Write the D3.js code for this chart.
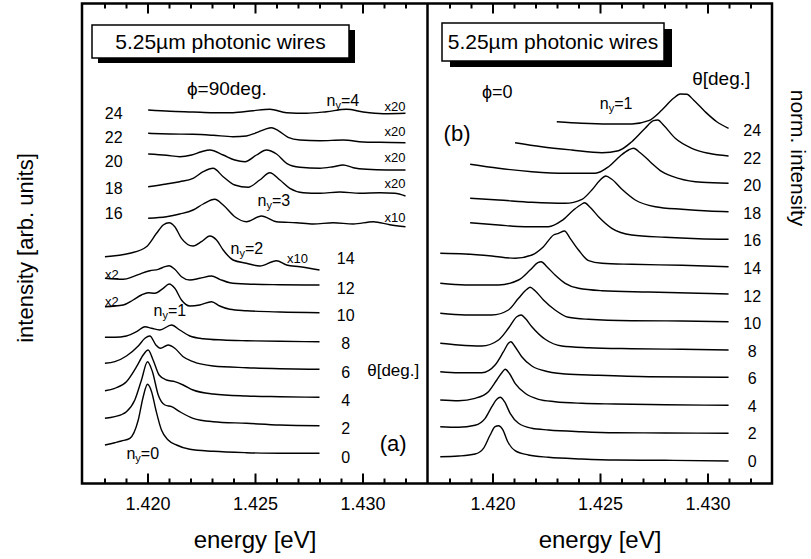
<!DOCTYPE html>
<html>
<head>
<script src="https://d3js.org/d3.v7.min.js"></script>
<style>
  body { margin: 0; background: #fff; }
  text { font-family: "Liberation Sans", Arial, Helvetica, sans-serif; fill: #000; }
  .trace { fill: none; stroke: #000; stroke-width: 1.4px; stroke-linejoin: round; }
  .axis path { display: none; }
  .axis line { stroke: #000; stroke-width: 2px; }
</style>
</head>
<body>
<svg width="811" height="559"></svg>
<script>
// energy ticks (eV)
const majorTicks = [1.420, 1.425, 1.430];
const minorTicks = [1.418, 1.419, 1.421, 1.422, 1.423, 1.424, 1.426, 1.427, 1.428, 1.429, 1.431, 1.432];

// panel (a), phi = 90deg: [energy, intensity + offset]
const a0 = [[1.41802,3.90],[1.41848,4.13],[1.41879,4.30],[1.41918,4.57],[1.41957,6.40],[1.41980,8.73],[1.42000,9.97],[1.42019,9.23],[1.42039,7.40],[1.42065,5.40],[1.42096,4.40],[1.42135,3.90],[1.42197,3.47],[1.42305,3.27],[1.42460,3.13],[1.42616,3.07],[1.42800,3.07]];
const a2 = [[1.41802,6.57],[1.41848,6.73],[1.41902,7.23],[1.41941,8.40],[1.41972,10.40],[1.42000,12.23],[1.42023,11.23],[1.42050,8.90],[1.42081,7.90],[1.42112,7.73],[1.42150,7.23],[1.42212,6.57],[1.42305,6.23],[1.42460,6.07],[1.42616,5.90],[1.42800,5.83]];
const a4 = [[1.41802,9.33],[1.41848,9.57],[1.41902,10.23],[1.41949,11.73],[1.41980,12.90],[1.42003,13.40],[1.42026,12.40],[1.42054,10.90],[1.42088,10.40],[1.42127,10.23],[1.42166,9.90],[1.42212,9.40],[1.42305,9.00],[1.42460,8.80],[1.42616,8.73],[1.42800,8.67]];
const a6 = [[1.41802,12.07],[1.41848,12.23],[1.41902,12.80],[1.41957,13.80],[1.41988,14.57],[1.42011,14.80],[1.42039,13.90],[1.42060,13.57],[1.42096,13.90],[1.42127,13.57],[1.42166,12.73],[1.42212,12.23],[1.42305,11.80],[1.42460,11.63],[1.42616,11.53],[1.42800,11.47]];
const a8 = [[1.41802,14.67],[1.41848,14.67],[1.41902,14.80],[1.41949,15.23],[1.41988,15.73],[1.42019,15.57],[1.42057,15.40],[1.42112,15.90],[1.42150,15.40],[1.42197,14.80],[1.42259,14.53],[1.42352,14.40],[1.42460,14.33],[1.42616,14.27],[1.42800,14.23]];
const a10 = [[1.41802,17.73],[1.41887,17.90],[1.41933,18.40],[1.41972,18.90],[1.42003,19.13],[1.42034,19.07],[1.42073,19.57],[1.42101,20.00],[1.42127,19.57],[1.42158,18.40],[1.42197,17.80],[1.42243,17.90],[1.42298,18.23],[1.42336,17.80],[1.42383,17.47],[1.42460,17.33],[1.42616,17.20],[1.42800,17.13]];
const a12 = [[1.41802,20.57],[1.41887,20.47],[1.41933,20.73],[1.41972,21.07],[1.42011,21.33],[1.42050,21.47],[1.42081,21.73],[1.42101,21.83],[1.42127,21.47],[1.42158,20.73],[1.42197,20.40],[1.42243,20.57],[1.42298,20.80],[1.42336,20.47],[1.42383,20.13],[1.42460,20.00],[1.42616,19.93],[1.42800,19.90]];
const a14 = [[1.41802,22.73],[1.41918,23.07],[1.41995,23.73],[1.42042,25.07],[1.42073,25.90],[1.42101,26.13],[1.42127,25.73],[1.42158,24.57],[1.42212,23.80],[1.42251,24.23],[1.42290,24.80],[1.42321,24.40],[1.42352,23.40],[1.42398,22.40],[1.42460,22.07],[1.42522,21.80],[1.42600,22.33],[1.42647,21.90],[1.42709,21.73],[1.42800,21.40]];
const a16 = [[1.42003,26.57],[1.42088,26.73],[1.42150,27.00],[1.42212,27.40],[1.42259,28.00],[1.42313,28.47],[1.42352,27.90],[1.42406,26.73],[1.42460,26.23],[1.42530,26.80],[1.42600,26.23],[1.42693,26.13],[1.42771,26.00],[1.42864,26.13],[1.42957,26.00],[1.43050,26.23],[1.43127,25.93],[1.43200,25.73]];
const a18 = [[1.42003,29.73],[1.42088,30.00],[1.42150,30.23],[1.42212,30.57],[1.42259,31.23],[1.42305,31.57],[1.42352,30.73],[1.42406,29.90],[1.42468,29.67],[1.42522,30.40],[1.42569,31.13],[1.42616,30.40],[1.42662,29.57],[1.42724,29.13],[1.42802,29.07],[1.42895,29.20],[1.42988,29.07],[1.43081,29.13],[1.43150,29.07],[1.43200,28.80]];
const a20 = [[1.42003,33.00],[1.42088,32.87],[1.42150,32.73],[1.42205,32.90],[1.42251,33.23],[1.42290,33.40],[1.42352,32.90],[1.42406,32.40],[1.42453,32.23],[1.42507,32.90],[1.42553,33.40],[1.42600,33.00],[1.42647,32.07],[1.42709,31.67],[1.42802,31.57],[1.42864,31.73],[1.42910,31.90],[1.42957,31.63],[1.43019,31.47],[1.43112,31.40],[1.43200,31.40]];
const a22 = [[1.42003,35.07],[1.42104,35.00],[1.42212,34.97],[1.42305,34.87],[1.42398,34.73],[1.42460,34.80],[1.42507,35.13],[1.42546,35.47],[1.42577,35.63],[1.42608,35.33],[1.42654,34.67],[1.42709,34.40],[1.42802,34.33],[1.42910,34.40],[1.43003,34.20],[1.43081,34.17],[1.43200,34.13]];
const a24 = [[1.42003,37.40],[1.42104,37.27],[1.42212,37.20],[1.42305,37.13],[1.42398,37.13],[1.42491,37.33],[1.42569,37.47],[1.42647,37.13],[1.42740,37.07],[1.42833,37.23],[1.42926,37.47],[1.43003,37.20],[1.43096,37.03],[1.43200,37.07]];

// panel (b), phi = 0
const b0 = [[1.41757,2.73],[1.41842,2.80],[1.41919,3.00],[1.41958,3.57],[1.41989,4.90],[1.42012,5.73],[1.42028,5.83],[1.42047,5.47],[1.42071,4.23],[1.42105,3.33],[1.42167,2.90],[1.42260,2.67],[1.42416,2.50],[1.42571,2.40],[1.42803,2.37],[1.43098,2.30]];
const b2 = [[1.41757,5.73],[1.41842,5.67],[1.41919,5.87],[1.41966,6.57],[1.41997,7.73],[1.42020,8.47],[1.42036,8.67],[1.42056,8.23],[1.42082,7.07],[1.42121,6.07],[1.42183,5.57],[1.42260,5.40],[1.42416,5.23],[1.42571,5.13],[1.42803,5.10],[1.43098,5.07]];
const b4 = [[1.41757,8.40],[1.41842,8.33],[1.41919,8.57],[1.41981,9.23],[1.42020,10.40],[1.42047,11.23],[1.42059,11.47],[1.42078,11.07],[1.42105,10.07],[1.42152,9.07],[1.42214,8.47],[1.42291,8.23],[1.42416,8.07],[1.42571,8.00],[1.42803,7.93],[1.43098,7.87]];
const b6 = [[1.41757,11.23],[1.41842,11.13],[1.41950,11.13],[1.42012,11.90],[1.42051,13.23],[1.42074,14.07],[1.42085,14.23],[1.42105,13.73],[1.42136,12.73],[1.42183,11.80],[1.42260,11.23],[1.42338,11.00],[1.42493,10.87],[1.42726,10.73],[1.43098,10.67]];
const b8 = [[1.41757,14.07],[1.41842,13.90],[1.41950,13.80],[1.42028,14.40],[1.42074,15.57],[1.42113,16.73],[1.42133,16.90],[1.42152,16.57],[1.42183,15.73],[1.42245,14.47],[1.42322,13.80],[1.42447,13.63],[1.42648,13.53],[1.42881,13.47],[1.43098,13.40]];
const b10 = [[1.41757,17.07],[1.41873,16.90],[1.41997,16.90],[1.42074,17.40],[1.42121,18.57],[1.42160,19.47],[1.42175,19.67],[1.42198,19.33],[1.42237,18.40],[1.42291,17.40],[1.42353,16.67],[1.42447,16.47],[1.42648,16.33],[1.42881,16.30],[1.43098,16.23]];
const b12 = [[1.41757,20.07],[1.41873,19.90],[1.42028,19.90],[1.42121,20.40],[1.42175,21.40],[1.42211,22.13],[1.42226,22.23],[1.42253,21.73],[1.42291,20.90],[1.42338,20.07],[1.42400,19.57],[1.42509,19.33],[1.42726,19.20],[1.42958,19.07],[1.43098,19.00]];
const b14 = [[1.41757,23.07],[1.41873,23.00],[1.41997,22.80],[1.42105,22.57],[1.42183,22.90],[1.42237,23.73],[1.42284,24.90],[1.42307,25.07],[1.42335,25.30],[1.42361,24.57],[1.42400,23.40],[1.42447,22.33],[1.42509,22.07],[1.42648,21.97],[1.42881,21.87],[1.43098,21.73]];
const b16 = [[1.41896,26.13],[1.42028,25.90],[1.42152,25.73],[1.42260,25.73],[1.42322,26.33],[1.42377,27.40],[1.42416,28.00],[1.42428,28.13],[1.42454,27.67],[1.42493,26.73],[1.42555,25.57],[1.42648,24.90],[1.42803,24.67],[1.42958,24.53],[1.43098,24.47]];
const b18 = [[1.41896,28.57],[1.42028,28.40],[1.42183,28.17],[1.42338,28.07],[1.42416,28.47],[1.42462,29.40],[1.42501,30.40],[1.42527,30.80],[1.42555,30.47],[1.42602,29.47],[1.42664,28.40],[1.42757,27.73],[1.42881,27.47],[1.43005,27.30],[1.43098,27.23]];
const b20 = [[1.41896,31.97],[1.42028,31.57],[1.42183,31.23],[1.42338,31.07],[1.42478,31.07],[1.42540,31.73],[1.42594,32.80],[1.42633,33.40],[1.42656,33.57],[1.42687,33.13],[1.42733,32.23],[1.42788,31.23],[1.42865,30.57],[1.42974,30.17],[1.43098,30.07]];
const b22 = [[1.42105,34.13],[1.42229,33.73],[1.42369,33.40],[1.42509,33.13],[1.42586,33.33],[1.42648,34.23],[1.42710,35.57],[1.42749,36.33],[1.42769,36.40],[1.42795,35.90],[1.42850,34.57],[1.42927,33.57],[1.43005,33.07],[1.43098,32.80]];
const b24 = [[1.42299,36.23],[1.42416,36.07],[1.42540,36.00],[1.42648,36.00],[1.42726,36.33],[1.42788,37.40],[1.42842,38.57],[1.42873,39.00],[1.42904,38.97],[1.42935,38.40],[1.42989,37.23],[1.43043,36.23],[1.43098,35.57]];

const tracesA = [a0, a2, a4, a6, a8, a10, a12, a14, a16, a18, a20, a22, a24];
const tracesB = [b0, b2, b4, b6, b8, b10, b12, b14, b16, b18, b20, b22, b24];

// angle labels: [theta, energy, level]
const thetaLabelsA = [[0,1.42922,2.7],[2,1.42922,5.6],[4,1.42922,8.4],[6,1.42922,11.2],[8,1.42922,14.1],[10,1.42922,16.9],[12,1.42922,19.6],[14,1.42922,22.6],
  [16,1.41843,27.1],[18,1.41843,29.6],[20,1.41843,32.3],[22,1.41843,34.7],[24,1.41843,37.1]];
const thetaLabelsB = [[0,1.43208,2.3],[2,1.43208,5.1],[4,1.43208,7.8],[6,1.43208,10.6],[8,1.43208,13.3],[10,1.43208,16.1],[12,1.43208,18.8],[14,1.43208,21.6],
  [16,1.43208,24.4],[18,1.43208,27.1],[20,1.43208,29.9],[22,1.43208,32.6],[24,1.43208,35.4]];
// scale factors: [text, energy, level]
const factorsA = [["x20",1.43151,37.8],["x20",1.43151,35.3],["x20",1.43151,32.7],["x20",1.43151,30.1],["x10",1.43151,26.7],["x10",1.42698,22.6],["x2",1.41834,21.0],["x2",1.41834,18.3]];
// mode labels n_y: [index, energy, level]
const modesA = [[4,1.42909,38.4],[3,1.42588,28.4],[2,1.42462,23.6],[1,1.42104,17.4],[0,1.41978,3.1]];
const modesB = [[1,1.42575,38.1]];

const svg = d3.select("svg");
const frameTop = 3.5, frameBottom = 483.5;
const y = d3.scaleLinear().domain([0, 48]).range([484, 4]);
const xA = d3.scaleLinear().domain([1.417, 1.433]).range([83, 427]);
const xB = d3.scaleLinear().domain([1.417, 1.433]).range([428, 772]);

function drawPanel(x, traces, thetaLabels, title, box) {
  const g = svg.append("g");

  // ticks on bottom (inward, labelled) and top (inward)
  g.append("g").attr("class", "axis").attr("transform", `translate(0,${frameBottom})`)
    .call(d3.axisBottom(x).tickValues(majorTicks).tickSize(-10).tickPadding(14).tickFormat(d3.format(".3f")))
    .selectAll("text").style("font-size", "18px").style("font-family", "Liberation Sans, Arial, sans-serif");
  g.append("g").attr("class", "axis").attr("transform", `translate(0,${frameBottom})`)
    .call(d3.axisBottom(x).tickValues(minorTicks).tickSize(-5).tickFormat(""));
  g.append("g").attr("class", "axis").attr("transform", `translate(0,${frameTop})`)
    .call(d3.axisTop(x).tickValues(majorTicks).tickSize(-10).tickFormat(""));
  g.append("g").attr("class", "axis").attr("transform", `translate(0,${frameTop})`)
    .call(d3.axisTop(x).tickValues(minorTicks).tickSize(-5).tickFormat(""));

  const line = d3.line().x(d => x(d[0])).y(d => y(d[1])).curve(d3.curveMonotoneX);
  g.selectAll(".trace").data(traces).join("path")
    .attr("class", "trace").attr("d", line);

  g.selectAll(".theta").data(thetaLabels).join("text")
    .attr("class", "theta")
    .attr("x", d => x(d[1])).attr("y", d => y(d[2]))
    .attr("dy", "0.35em").attr("text-anchor", "middle")
    .style("font-size", "16px").text(d => d[0]);

  // title box with drop shadow
  g.append("rect").attr("x", box[0] + box[4]).attr("y", box[1] + box[5])
    .attr("width", box[2]).attr("height", box[3]).attr("fill", "#000");
  g.append("rect").attr("x", box[0]).attr("y", box[1])
    .attr("width", box[2]).attr("height", box[3])
    .attr("fill", "#fff").attr("stroke", "#000").attr("stroke-width", 1.5);
  g.append("text").attr("x", box[0] + box[2] / 2).attr("y", box[1] + box[3] / 2)
    .attr("dy", "0.35em").attr("text-anchor", "middle")
    .style("font-size", "21px").text(title);
  return g;
}

function modeLabel(g, x, d) {
  const t = g.append("text").attr("x", x(d[1])).attr("y", y(d[2]))
    .attr("dy", "0.35em").attr("text-anchor", "middle").style("font-size", "16px");
  t.append("tspan").text("n");
  t.append("tspan").attr("dy", "3").style("font-size", "11px").text("y");
  t.append("tspan").attr("dy", "-3").text("=" + d[0]);
}

function note(g, x, e, v, txt, size) {
  g.append("text").attr("x", x(e)).attr("y", y(v)).attr("dy", "0.35em")
    .attr("text-anchor", "middle").style("font-size", size + "px").text(txt);
}

const gA = drawPanel(xA, tracesA, thetaLabelsA, "5.25\u00b5m photonic wires", [92, 25, 257, 33, 6, 5]);
const gB = drawPanel(xB, tracesB, thetaLabelsB, "5.25\u00b5m photonic wires", [442, 23, 222, 38, 8, 6]);

gA.selectAll(".factor").data(factorsA).join("text")
  .attr("class", "factor").attr("x", d => xA(d[1])).attr("y", d => y(d[2]))
  .attr("dy", "0.35em").attr("text-anchor", "middle").style("font-size", "13px").text(d => d[0]);
modesA.forEach(d => modeLabel(gA, xA, d));
modesB.forEach(d => modeLabel(gB, xB, d));

note(gA, xA, 1.42369, 39.6, "\u03d5=90deg.", 19);
note(gA, xA, 1.43143, 11.4, "\u03b8[deg.]", 17);
note(gA, xA, 1.43143, 4.1, "(a)", 22);
note(gB, xB, 1.43064, 40.6, "\u03b8[deg.]", 19);
note(gB, xB, 1.42022, 39.2, "\u03d5=0", 18);
note(gB, xB, 1.41835, 35.1, "(b)", 22);

// frame and divider
svg.append("rect").attr("x", 82).attr("y", frameTop).attr("width", 690).attr("height", frameBottom - frameTop)
  .attr("fill", "none").attr("stroke", "#000").attr("stroke-width", 2.5);
svg.append("line").attr("x1", 427.5).attr("x2", 427.5).attr("y1", frameTop).attr("y2", frameBottom)
  .attr("stroke", "#000").attr("stroke-width", 2.5);

// axis titles
svg.append("text").attr("x", 255).attr("y", 548).attr("text-anchor", "middle")
  .style("font-size", "24px").text("energy [eV]");
svg.append("text").attr("x", 600).attr("y", 548).attr("text-anchor", "middle")
  .style("font-size", "24px").text("energy [eV]");
svg.append("text").attr("transform", "translate(33,248) rotate(-90)").attr("text-anchor", "middle")
  .style("font-size", "22px").text("intensity [arb. units]");
svg.append("text").attr("transform", "translate(791,158) rotate(90)").attr("text-anchor", "middle")
  .style("font-size", "21px").text("norm. intensity");
</script>
</body>
</html>
